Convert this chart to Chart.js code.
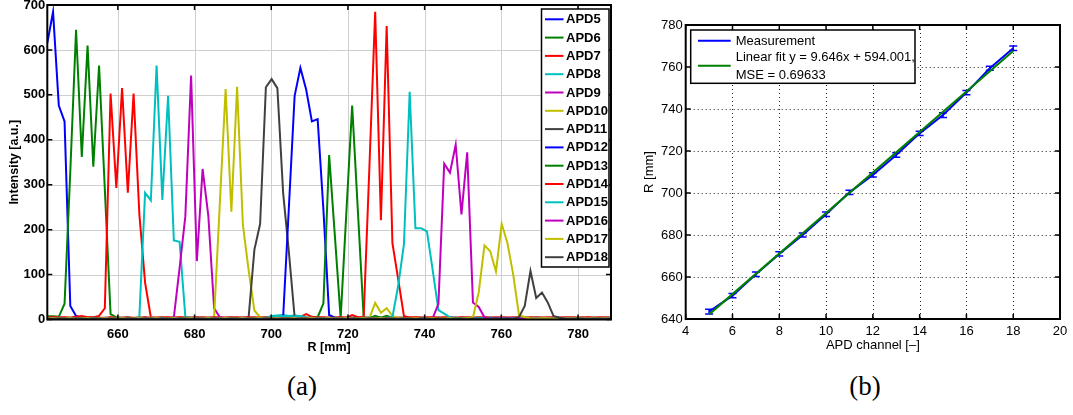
<!DOCTYPE html>
<html><head><meta charset="utf-8">
<script src="https://cdn.jsdelivr.net/npm/chart.js@4.4.1/dist/chart.umd.min.js"></script>
<style>
html,body{margin:0;padding:0;background:#fff;width:1073px;height:415px;overflow:hidden}
#ca{position:absolute;left:0;top:0}
#cb{position:absolute;left:640px;top:0}
.cap{position:absolute;top:368px;width:100px;height:36px;line-height:36px;text-align:center;font-family:"Liberation Serif","DejaVu Serif",serif;font-size:27px;color:#000}
</style></head>
<body>
<canvas id="ca" width="640" height="360"></canvas>
<canvas id="cb" width="433" height="360"></canvas>
<div class="cap" style="left:252px">(a)</div>
<div class="cap" style="left:815px">(b)</div>
<script>
// ---------- Panel (a) data ----------
const rStart = 641.6, rStep = 1.5; // sample grid of R [mm] (99 samples)
const rValues = [];
for (let k = 0; k < 99; k++) rValues.push(+(rStart + rStep * k).toFixed(2));
const xTicksA = [660, 680, 700, 720, 740, 760, 780];
const yTicksA = [0, 100, 200, 300, 400, 500, 600, 700];
const apdNames = ['APD5','APD6','APD7','APD8','APD9','APD10','APD11','APD12','APD13','APD14','APD15','APD16','APD17','APD18'];
const apdColors = ['#0000ff','#008000','#ff0000','#00bfbf','#bf00bf','#bfbf00','#404040','#0000ff','#008000','#ff0000','#00bfbf','#bf00bf','#bfbf00','#404040'];

const APD5 = [615,685,476,441,30,8,4,3,4,3, 3,4,3,3,4,3,3,4,3,3, 3,3,4,3,3,3,4,3,3,3, 4,3,3,3,4,3,3,3,3,4, 3,3,3,4,3,3,3,4,3,3, 3,4,3,3,3,3,4,3,3,3, 4,3,3,3,3,4,3,3,3,3, 3,3,4,3,3,3,3,4,3,3, 3,3,3,4,3,3,3,3,3,4, 3,3,3,3,4,3,3,3,3];
const APD6 = [7,7,6,35,330,645,362,610,340,565, 290,12,5,4,4,3,4,4,3,4, 4,3,4,4,3,4,4,3,4,4, 3,4,4,3,4,4,3,4,4,3, 4,4,3,4,4,3,4,4,3,4, 4,3,4,4,3,4,4,3,4,4, 3,4,4,3,4,4,3,4,4,3, 4,4,3,4,4,3,4,4,3,4, 4,3,4,4,3,4,4,3,4,4, 3,4,4,3,4,4,3,4,4];
const APD7 = [5,5,4,5,4,6,8,5,5,8, 25,503,293,515,282,503,235,82,5,4, 4,5,4,4,5,4,4,5,4,4, 5,4,4,5,4,4,5,4,4,5, 4,4,5,4,6,12,6,4,5,4, 4,5,4,10,5,4,4,5,4,4, 5,4,4,5,4,4,5,4,4,5, 4,4,5,4,4,5,4,4,5,4, 4,5,4,4,5,4,4,5,4,4, 5,4,4,5,4,4,5,4,4];
const APD8 = [3,3,4,3,3,4,3,3,4,3, 3,4,3,3,4,3,5,282,265,565, 266,498,176,173,6,4,3,4,3,4, 3,4,3,4,3,4,3,4,4,8, 9,10,8,9,8,5,4,3,4,3, 4,3,4,3,4,3,4,3,4,3, 4,3,4,3,4,3,4,3,4,3, 4,3,4,3,4,3,4,3,4,3, 4,3,4,3,4,3,4,3,4,3, 4,3,4,3,4,3,4,3,4];
const APD9 = [2,2,3,2,2,3,2,2,3,2, 2,3,2,2,3,2,2,3,2,2, 3,2,5,115,230,543,130,335,230,25, 5,3,2,3,2,3,2,3,2,3, 2,3,2,3,2,3,2,3,2,3, 2,3,2,3,2,3,2,3,2,3, 2,3,2,3,2,3,2,3,2,3, 2,3,2,3,2,3,2,3,2,3, 2,3,2,3,2,3,2,3,2,3, 2,3,2,3,2,3,2,3,2];
const APD10 = [3,2,3,3,2,3,3,2,3,3, 2,3,3,2,3,3,2,3,3,2, 3,3,2,3,3,2,3,3,2,5, 260,513,240,518,211,110,20,5,3,2, 3,3,2,3,3,2,3,3,2,3, 3,2,3,3,2,3,3,37,15,25, 8,3,2,3,3,2,3,3,2,3, 3,2,3,3,2,3,3,2,3,3, 2,3,3,2,3,3,2,3,3,2, 3,3,2,3,3,2,3,3,2];
const APD11 = [2,1,2,2,1,2,2,1,2,2, 1,2,2,1,2,2,1,2,2,1, 2,2,1,2,2,1,2,2,1,2, 2,1,2,2,1,5,155,213,517,535, 515,282,150,5,2,1,2,2,1,2, 2,1,2,2,1,2,2,1,2,2, 1,2,2,1,2,2,1,2,2,1, 2,2,1,2,2,1,2,2,1,2, 2,1,2,2,1,2,2,1,2,2, 1,2,2,1,2,2,1,2,2];
const APD12 = [3,3,2,3,3,2,3,3,2,3, 3,2,3,3,2,3,3,2,3,3, 2,3,3,2,3,3,2,3,3,2, 3,3,2,3,3,2,3,3,2,3, 3,5,250,498,560,512,441,446,245,10, 4,3,3,2,3,3,2,3,3,2, 3,3,2,3,3,2,3,3,2,3, 3,2,3,3,2,3,3,2,3,3, 2,3,3,2,3,3,2,3,3,2, 3,3,2,3,3,2,3,3,2];
const APD13 = [3,2,3,3,2,3,3,2,3,3, 2,3,3,2,3,3,2,3,3,2, 3,3,2,3,3,2,3,3,2,3, 3,2,3,3,2,3,3,2,3,3, 3,2,3,3,2,3,3,5,36,366, 185,3,240,476,240,5,3,8,4,8, 4,3,3,2,3,3,2,3,3,2, 3,3,2,3,3,2,3,3,2,3, 3,2,3,3,2,3,3,2,3,3, 2,3,3,2,3,3,2,3,3];
const APD14 = [4,4,5,4,4,5,4,4,5,4, 4,5,4,4,5,4,4,5,4,4, 5,4,4,5,4,4,5,4,4,5, 4,4,5,4,4,5,4,4,5,4, 4,5,4,4,5,4,4,5,4,4, 4,5,4,4,5,5,340,685,221,653, 170,90,8,4,5,4,4,5,4,4, 5,4,4,5,4,4,5,4,4,5, 4,4,5,4,4,5,4,4,5,4, 4,5,4,4,5,4,4,5,4];
const APD15 = [4,3,4,3,4,3,4,3,4,3, 4,3,4,3,4,3,4,3,4,3, 4,3,4,3,4,3,4,3,4,3, 4,3,4,3,4,3,4,3,4,6, 8,7,8,6,7,4,3,4,3,4, 3,4,3,4,3,4,3,4,3,4, 5,75,167,507,203,203,196,110,21,13, 5,4,3,4,3,4,3,4,3,4, 3,4,3,4,3,4,3,4,3,4, 3,4,3,4,3,4,3,4,3];
const APD16 = [2,3,2,3,2,3,2,3,2,3, 2,3,2,3,2,3,2,3,2,3, 2,3,2,3,2,3,2,3,2,3, 2,3,2,3,2,3,2,3,2,3, 2,3,2,3,2,3,2,3,2,3, 2,3,2,3,2,3,2,3,2,3, 2,3,2,3,2,3,2,3,35,347, 327,389,234,372,38,28,5,2,3,2, 3,2,3,2,3,2,3,2,3,2, 3,2,3,2,3,2,3,2,3];
const APD17 = [3,3,2,3,3,2,3,3,2,3, 3,2,3,3,2,3,3,2,3,3, 2,3,3,2,3,3,2,3,3,2, 3,3,2,3,3,2,3,3,2,3, 3,2,3,3,2,3,3,2,3,3, 2,3,3,2,3,3,2,3,3,2, 3,3,2,3,3,2,3,3,2,3, 3,2,3,3,5,60,165,152,107,213, 170,100,10,5,3,2,3,3,2,3, 3,2,3,3,2,3,3,2,3];
const APD18 = [2,1,2,2,1,2,2,1,2,2, 1,2,2,1,2,2,1,2,2,1, 2,2,1,2,2,1,2,2,1,2, 2,1,2,2,1,2,2,1,2,2, 1,2,2,1,2,2,1,2,2,1, 2,2,1,2,2,1,2,2,1,2, 2,1,2,2,1,2,2,1,2,2, 1,2,2,1,2,2,1,2,2,1, 2,1,5,30,108,48,60,38,8,4, 2,1,2,2,1,2,2,1,2];
const apdSeries = [APD5,APD6,APD7,APD8,APD9,APD10,APD11,APD12,APD13,APD14,APD15,APD16,APD17,APD18];

// ---------- Panel (b) data ----------
const channels = [5,6,7,8,9,10,11,12,13,14,15,16,17,18];
const measR = [643.5,651.1,661.3,671.0,680.0,689.9,700.3,708.6,718.1,728.4,737.1,747.8,759.4,768.9];
const measErr = [1.1,1.0,1.1,1.0,1.0,1.1,1.0,1.0,1.1,1.0,1.1,1.0,1.0,1.1];
const fitX = [5, 18];
const fitY = [642.2, 767.6];
const xTicksB = [4,6,8,10,12,14,16,18,20];
const yTicksB = [640,660,680,700,720,740,760,780];

const SANS = '"Liberation Sans", Arial, Helvetica, sans-serif';

function drawBox(ctx, a, lw){
  ctx.save(); ctx.strokeStyle = '#000'; ctx.lineWidth = lw;
  ctx.strokeRect(a.left, a.top, a.right - a.left, a.bottom - a.top);
  ctx.restore();
}
function drawInTicks(ctx, a, x, y, xt, yt, len, lw){
  ctx.save(); ctx.strokeStyle = '#000'; ctx.lineWidth = lw; ctx.beginPath();
  xt.forEach(v => { const p = x.getPixelForValue(v);
    ctx.moveTo(p, a.bottom); ctx.lineTo(p, a.bottom - len);
    ctx.moveTo(p, a.top); ctx.lineTo(p, a.top + len); });
  yt.forEach(v => { const p = y.getPixelForValue(v);
    ctx.moveTo(a.left, p); ctx.lineTo(a.left + len, p);
    ctx.moveTo(a.right, p); ctx.lineTo(a.right - len, p); });
  ctx.stroke(); ctx.restore();
}

// ---------- Chart (a) ----------
const plugA = {
  id: 'plugA',
  beforeDatasetsDraw(chart){
    const {ctx, chartArea:a, scales:{x, y}} = chart;
    ctx.save(); ctx.strokeStyle = '#cfcfcf'; ctx.lineWidth = 1; ctx.beginPath();
    xTicksA.forEach(v => { const p = Math.round(x.getPixelForValue(v)) + 0.5; ctx.moveTo(p, a.top); ctx.lineTo(p, a.bottom); });
    yTicksA.forEach(v => { if (v === yTicksA[0] || v === yTicksA[yTicksA.length-1]) return;
      const p = Math.round(y.getPixelForValue(v)) + 0.5; ctx.moveTo(a.left, p); ctx.lineTo(a.right, p); });
    ctx.stroke(); ctx.restore();
  },
  afterDatasetsDraw(chart){
    const {ctx, chartArea:a, scales:{x, y}} = chart;
    drawInTicks(ctx, a, x, y, xTicksA, yTicksA, 5, 1.5);
    drawBox(ctx, a, 2);
    // legend
    const L = 541.5, T = 9, R = 609, B = 267, dy = 18.3, y0 = 19.3;
    ctx.save();
    ctx.fillStyle = '#fff'; ctx.fillRect(L, T, R - L, B - T);
    ctx.strokeStyle = '#000'; ctx.lineWidth = 1.5; ctx.strokeRect(L, T, R - L, B - T);
    ctx.font = 'bold 13px ' + SANS; ctx.textBaseline = 'middle'; ctx.textAlign = 'left';
    apdNames.forEach((n, i) => {
      const yy = y0 + i * dy;
      ctx.strokeStyle = apdColors[i]; ctx.lineWidth = 2;
      ctx.beginPath(); ctx.moveTo(545, yy); ctx.lineTo(563.5, yy); ctx.stroke();
      ctx.fillStyle = '#000'; ctx.fillText(n, 566, yy + 0.5);
    });
    ctx.restore();
  }
};

new Chart(document.getElementById('ca'), {
  type: 'line',
  data: {
    datasets: apdSeries.map((s, i) => ({
      label: apdNames[i],
      data: s.map((v, k) => ({x: rValues[k], y: v})),
      borderColor: apdColors[i], borderWidth: 2, pointRadius: 0, tension: 0,
      fill: false, order: -i
    }))
  },
  options: {
    responsive: false, animation: false, devicePixelRatio: 1,
    layout: {padding: {left: 0, top: 5, right: 29, bottom: 0}},
    plugins: {legend: {display: false}, tooltip: {enabled: false}},
    scales: {
      x: {
        type: 'linear', min: 641.6, max: 788.6,
        afterBuildTicks: s => { s.ticks = xTicksA.map(v => ({value: v})); },
        afterFit: s => { s.height = 40.5; s.paddingLeft = 0; s.paddingRight = 0; },
        grid: {display: false, drawTicks: false}, border: {display: false},
        ticks: {font: {family: SANS, size: 13, weight: 'bold'}, color: '#000', padding: 7, maxRotation: 0},
        title: {display: true, text: 'R [mm]', font: {family: SANS, size: 12.5, weight: 'bold'}, color: '#000', padding: {top: 0, bottom: 4.5}}
      },
      y: {
        type: 'linear', min: 0, max: 700,
        afterBuildTicks: s => { s.ticks = yTicksA.map(v => ({value: v})); },
        afterFit: s => { s.width = 47.3; s.paddingTop = 0; s.paddingBottom = 0; },
        grid: {display: false, drawTicks: false}, border: {display: false},
        ticks: {font: {family: SANS, size: 13, weight: 'bold'}, color: '#000', padding: 2},
        title: {display: true, text: 'Intensity [a.u.]', font: {family: SANS, size: 12.5, weight: 'bold'}, color: '#000', padding: {top: 7.5, bottom: 0}}
      }
    }
  },
  plugins: [plugA]
});

// ---------- Chart (b) ----------
const plugB = {
  id: 'plugB',
  beforeDatasetsDraw(chart){
    const {ctx, chartArea:a, scales:{x, y}} = chart;
    ctx.save(); ctx.strokeStyle = '#222'; ctx.lineWidth = 1; ctx.setLineDash([1, 3]); ctx.beginPath();
    xTicksB.forEach(v => { if (v === xTicksB[0] || v === xTicksB[xTicksB.length-1]) return;
      const p = Math.round(x.getPixelForValue(v)) + 0.5; ctx.moveTo(p, a.top); ctx.lineTo(p, a.bottom); });
    yTicksB.forEach(v => { if (v === yTicksB[0] || v === yTicksB[yTicksB.length-1]) return;
      const p = Math.round(y.getPixelForValue(v)) + 0.5; ctx.moveTo(a.left, p); ctx.lineTo(a.right, p); });
    ctx.stroke(); ctx.restore();
    // error bars
    ctx.save(); ctx.strokeStyle = '#0000ff'; ctx.lineWidth = 1.5; ctx.beginPath();
    channels.forEach((c, i) => {
      const px = x.getPixelForValue(c);
      const p1 = y.getPixelForValue(measR[i] - measErr[i]);
      const p2 = y.getPixelForValue(measR[i] + measErr[i]);
      ctx.moveTo(px, p1); ctx.lineTo(px, p2);
      ctx.moveTo(px - 4, p1); ctx.lineTo(px + 4, p1);
      ctx.moveTo(px - 4, p2); ctx.lineTo(px + 4, p2);
    });
    ctx.stroke(); ctx.restore();
  },
  afterDatasetsDraw(chart){
    const {ctx, chartArea:a, scales:{x, y}} = chart;
    drawInTicks(ctx, a, x, y, xTicksB, yTicksB, 5, 1.5);
    drawBox(ctx, a, 2);
    // legend
    const L = 50.7, T = 30, R = 275, B = 83.3;
    ctx.save();
    ctx.fillStyle = '#fff'; ctx.fillRect(L, T, R - L, B - T);
    ctx.strokeStyle = '#000'; ctx.lineWidth = 1.5; ctx.strokeRect(L, T, R - L, B - T);
    ctx.lineWidth = 2;
    ctx.strokeStyle = '#0000ff'; ctx.beginPath(); ctx.moveTo(58, 40.7); ctx.lineTo(90.7, 40.7); ctx.stroke();
    ctx.strokeStyle = '#008000'; ctx.beginPath(); ctx.moveTo(58, 65.7); ctx.lineTo(90.7, 65.7); ctx.stroke();
    ctx.font = '13px ' + SANS; ctx.fillStyle = '#000'; ctx.textBaseline = 'middle'; ctx.textAlign = 'left';
    ctx.fillText('Measurement', 95.7, 41);
    ctx.fillText('Linear fit y = 9.646x + 594.001,', 95.7, 57);
    ctx.fillText('MSE = 0.69633', 95.7, 75.3);
    ctx.restore();
  }
};

new Chart(document.getElementById('cb'), {
  type: 'line',
  data: {
    datasets: [
      {label: 'Linear fit', data: fitX.map((v, i) => ({x: v, y: fitY[i]})), borderColor: '#008000', borderWidth: 2, pointRadius: 0, tension: 0, order: 0},
      {label: 'Measurement', data: channels.map((c, i) => ({x: c, y: measR[i]})), borderColor: '#0000ff', borderWidth: 2, pointRadius: 0, tension: 0, order: 1}
    ]
  },
  options: {
    responsive: false, animation: false, devicePixelRatio: 1,
    layout: {padding: {left: 0, top: 25, right: 13, bottom: 0}},
    plugins: {legend: {display: false}, tooltip: {enabled: false}},
    scales: {
      x: {
        type: 'linear', min: 4, max: 20,
        afterBuildTicks: s => { s.ticks = xTicksB.map(v => ({value: v})); },
        afterFit: s => { s.height = 41; s.paddingLeft = 0; s.paddingRight = 0; },
        grid: {display: false, drawTicks: false}, border: {display: false},
        ticks: {font: {family: SANS, size: 13}, color: '#000', padding: 5, maxRotation: 0},
        title: {display: true, text: 'APD channel [–]', font: {family: SANS, size: 13}, color: '#000', padding: {top: 0, bottom: 7}}
      },
      y: {
        type: 'linear', min: 640, max: 780,
        afterBuildTicks: s => { s.ticks = yTicksB.map(v => ({value: v})); },
        afterFit: s => { s.width = 45.7; s.paddingTop = 0; s.paddingBottom = 0; },
        grid: {display: false, drawTicks: false}, border: {display: false},
        ticks: {font: {family: SANS, size: 13}, color: '#000', padding: 3},
        title: {display: true, text: 'R [mm]', font: {family: SANS, size: 13}, color: '#000', padding: {top: 1.2, bottom: 0}}
      }
    }
  },
  plugins: [plugB]
});
</script>
</body></html>
